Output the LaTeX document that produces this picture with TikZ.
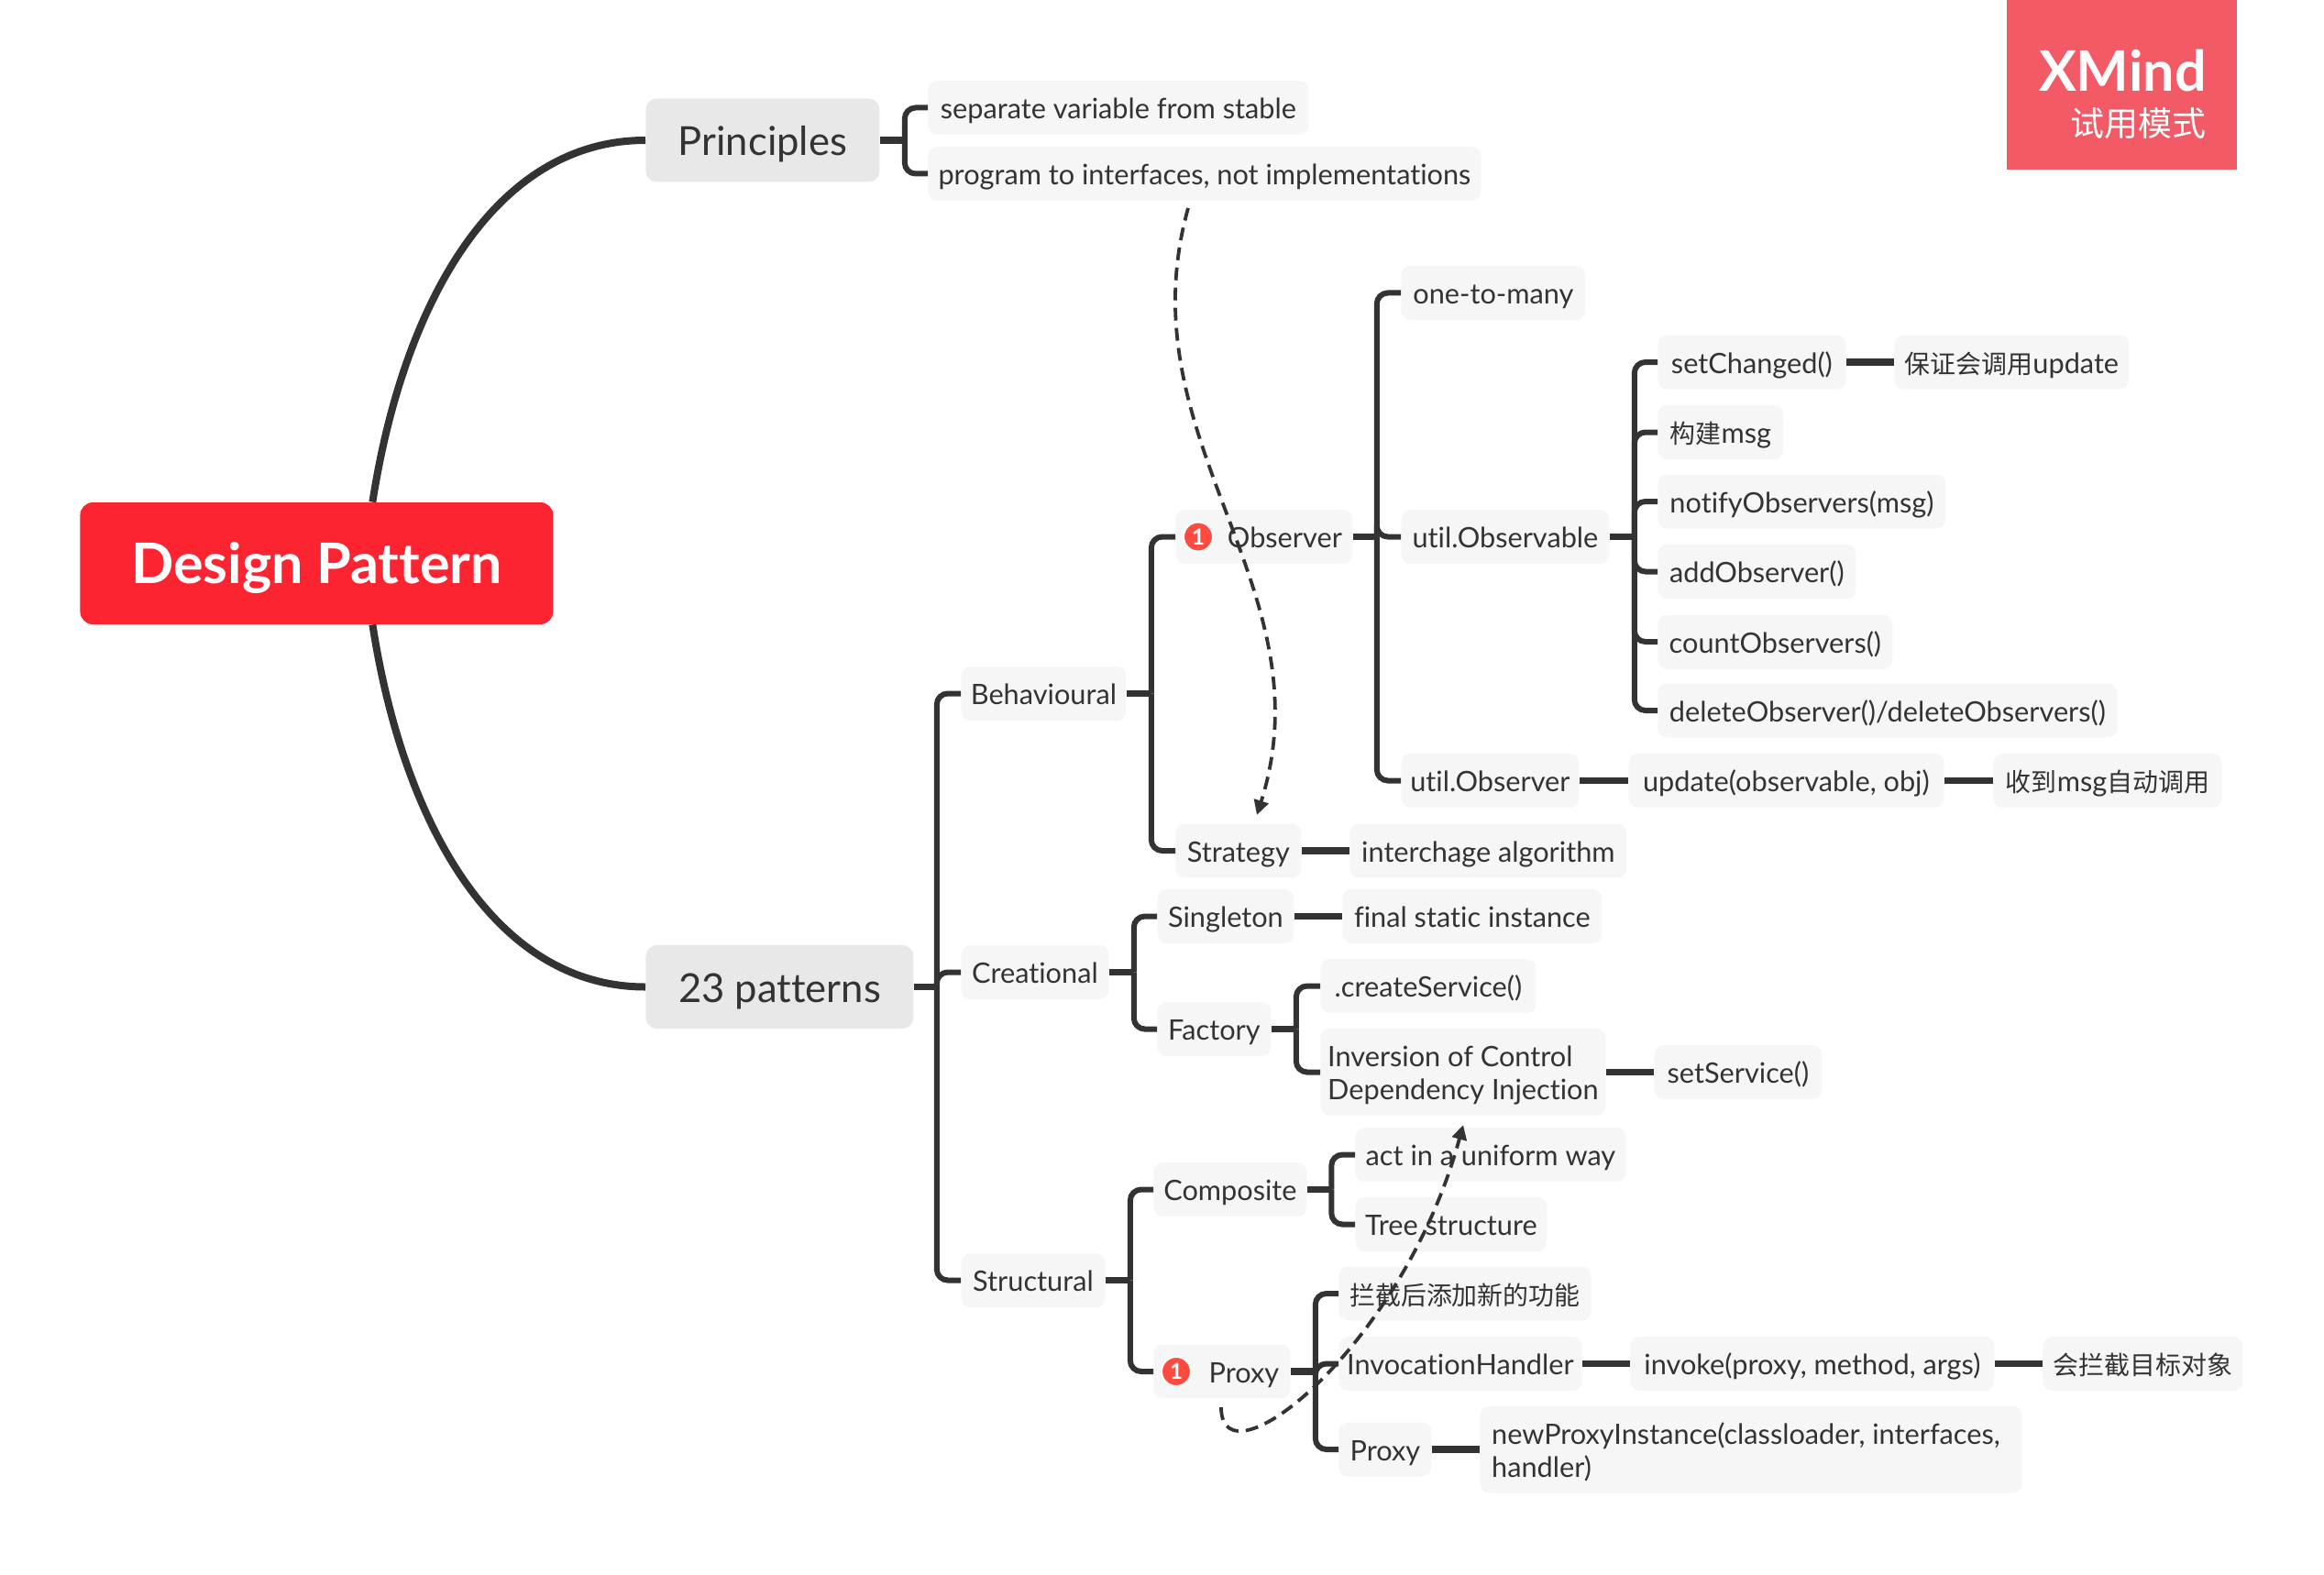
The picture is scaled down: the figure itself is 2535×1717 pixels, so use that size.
\documentclass[tikz,border=0pt]{standalone}
\usepackage{fontspec}
\usepackage{tikz}
\usetikzlibrary{arrows.meta}
\setmainfont[Ligatures=NoCommon]{Lato}
\newfontfamily\cjk[Scale=.91]{Noto Sans CJK SC}
\definecolor{inkgray}{HTML}{333333}
\definecolor{leafgray}{HTML}{F6F6F6}
\definecolor{maingray}{HTML}{E8E8E8}
\definecolor{rootred}{HTML}{FB2430}
\definecolor{markred}{HTML}{FF4A3F}
\definecolor{trialred}{HTML}{F25A65}
\tikzset{
  boxw/.style={minimum width=#1*.5pt},
  boxbase/.style={anchor=west, inner sep=0pt, text=inkgray},
  leaf/.style={boxbase, fill=leafgray, rounded corners=5pt, minimum height=29.5pt, text height=14pt, text depth=2pt, font=\fontsize{15.35}{18}\selectfont, align=left},
  tall/.style={boxbase, fill=leafgray, rounded corners=5pt, minimum height=47.5pt, font=\fontsize{15.35}{18}\selectfont, align=left},
  topic/.style={boxbase, fill=maingray, rounded corners=6pt, minimum height=45.5pt, text height=21pt, text depth=4pt, font=\fontsize{21.8}{24}\selectfont},
  badge/.style={circle, fill=markred, draw=white, line width=1pt, minimum size=16pt, inner sep=0pt, text=white, font=\bfseries\fontsize{12}{12}\selectfont},
  branch/.style={draw=inkgray, line width=3pt, rounded corners=6pt},
  stub/.style={draw=inkgray, line width=3.8pt},
  mainline/.style={draw=inkgray, line width=4pt},
  rel/.style={draw=inkgray, line width=1.9pt, dash pattern=on 7pt off 4pt, -{Triangle[length=8pt,width=8pt]}}
}
\begin{document}
\begin{tikzpicture}[x=.5pt, y=-.5pt]
        \useasboundingbox (0,0) rectangle (2535,1717);
        \node[anchor=north west, fill=trialred, inner sep=0pt, minimum width=125.5pt, minimum height=92.5pt] (trial) at (2189,0) {};
        \node[anchor=east, text=white, inner sep=0pt, font=\bfseries\fontsize{30.5}{30}\selectfont] (trialname) at (2407,77) {XMind};
        \node[anchor=east, text=white, inner sep=0pt, font=\cjk\fontsize{20.3}{22}\selectfont] (trialnote) at (2407,135) {试用模式};

        \node[boxbase, fill=rootred, rounded corners=7pt, boxw=516, minimum height=66.5pt, text height=28pt, text depth=6pt, text=white, font=\bfseries\fontsize{30.5}{32}\selectfont] (root) at (87,614.5) {Design Pattern};
        \node[topic, boxw=255] (principles) at (704,153) {Principles};
        \node[topic, boxw=292] (patterns) at (704,1076.5) {23 patterns};

        \node[leaf, boxw=415] (separate) at (1012,117.5) {separate variable from stable};
        \node[leaf, boxw=603] (program) at (1012,189.5) {program to interfaces, not implementations};

        \node[leaf, boxw=180] (behavioural) at (1048,756.5) {Behavioural};
        \node[leaf, boxw=161] (creational) at (1048,1060.5) {Creational};
        \node[leaf, boxw=157] (structural) at (1048,1396.5) {Structural};

        \node[leaf, boxw=193] (observer) at (1282,585.5) {\hspace*{22.5pt}Observer};
        \node[badge] (observermark) at (1307,585.5) {1};
        \node[leaf, boxw=137] (strategy) at (1282,928) {Strategy};
        \node[leaf, boxw=302] (interchange) at (1472,928) {interchage algorithm};

        \node[leaf, boxw=201] (onetomany) at (1528,319.5) {one-to-many};
        \node[leaf, boxw=227] (observable) at (1528,585.5) {util.Observable};
        \node[leaf, boxw=194] (utilobserver) at (1528,851.5) {util.Observer};
        \node[leaf, boxw=344] (update) at (1776,851.5) {update(observable, obj)};
        \node[leaf, boxw=249] (received) at (2174,851.5) {{\cjk 收到}msg{\cjk 自动调用}};

        \node[leaf, boxw=205] (setchanged) at (1808,395) {setChanged()};
        \node[leaf, boxw=256] (ensure) at (2066,395) {{\cjk 保证会调用}update};
        \node[leaf, boxw=137] (buildmsg) at (1808,471.5) {{\cjk 构建}msg};
        \node[leaf, boxw=314] (notify) at (1808,547) {notifyObservers(msg)};
        \node[leaf, boxw=216] (addobs) at (1808,623.5) {addObserver()};
        \node[leaf, boxw=256] (countobs) at (1808,700) {countObservers()};
        \node[leaf, boxw=501] (deleteobs) at (1808,775) {deleteObserver()/deleteObservers()};

        \node[leaf, boxw=149] (singleton) at (1262,999.5) {Singleton};
        \node[leaf, boxw=283] (finalstatic) at (1464,999.5) {final static instance};
        \node[leaf, boxw=124] (factory) at (1262,1122.5) {Factory};
        \node[leaf, boxw=235] (createservice) at (1440,1075.5) {.createService()};
        \node[tall, boxw=311] (inversion) at (1440,1169.5) {\rule{0pt}{14.5pt}Inversion of Control\\Dependency Injection};
        \node[leaf, boxw=183] (setservice) at (1804,1169.5) {setService()};

        \node[leaf, boxw=167] (composite) at (1258,1297.5) {Composite};
        \node[leaf, boxw=295] (uniform) at (1478,1259.5) {act in a uniform way};
        \node[leaf, boxw=209] (treestruct) at (1478,1335.5) {Tree structure};
        \node[leaf, boxw=149] (proxy) at (1258,1496) {\hspace*{24pt}Proxy};
        \node[badge] (proxymark) at (1283,1496) {1};
        \node[leaf, boxw=275] (intercept) at (1460,1411) {{\cjk 拦截后添加新的功能}};
        \node[leaf, boxw=265] (handler) at (1460,1487.5) {InvocationHandler};
        \node[leaf, boxw=397] (invoke) at (1778,1487.5) {invoke(proxy, method, args)};
        \node[leaf, boxw=218] (target) at (2228,1487.5) {{\cjk 会拦截目标对象}};
        \node[leaf, boxw=101] (proxyclass) at (1460,1581) {Proxy};
        \node[tall, boxw=591] (newproxy) at (1614,1581) {\rule{0pt}{14.5pt}newProxyInstance(classloader, interfaces,\hspace*{5.5pt}\\handler)};

        \draw[mainline] ([xshift=30.5pt]root.north) .. controls (440,330) and (540,153) .. (principles.west);
        \draw[mainline] ([xshift=30.5pt]root.south) .. controls (440,899) and (540,1076.5) .. (patterns.west);

        \foreach \kid in {separate,program} \draw[branch] ([xshift=13.5pt]principles.east) |- (\kid.west);
        \foreach \kid in {behavioural,creational,structural} \draw[branch] ([xshift=12.5pt]patterns.east) |- (\kid.west);
        \foreach \kid in {observer,strategy} \draw[branch] ([xshift=13.5pt]behavioural.east) |- (\kid.west);
        \foreach \kid in {onetomany,observable,utilobserver} \draw[branch] ([xshift=13pt]observer.east) |- (\kid.west);
        \foreach \kid in {setchanged,buildmsg,notify,addobs,countobs,deleteobs} \draw[branch] ([xshift=13.5pt]observable.east) |- (\kid.west);
        \foreach \kid in {singleton,factory} \draw[branch] ([xshift=13.5pt]creational.east) |- (\kid.west);
        \foreach \kid in {createservice,inversion} \draw[branch] ([xshift=13.5pt]factory.east) |- (\kid.west);
        \foreach \kid in {composite,proxy} \draw[branch] ([xshift=13.5pt]structural.east) |- (\kid.west);
        \foreach \kid in {uniform,treestruct} \draw[branch] ([xshift=13.25pt]composite.east) |- (\kid.west);
        \foreach \kid in {intercept,handler,proxyclass} \draw[branch] ([xshift=13.5pt]proxy.east) |- (\kid.west);

        \foreach \from in {principles,patterns,behavioural,observer,observable,creational,factory,structural,composite,proxy} \draw[stub] (\from.east) -- ++(27,0);

        \draw[stub] (strategy) -- (interchange);
        \draw[stub] (utilobserver) -- (update);
        \draw[stub] (update) -- (received);
        \draw[stub] (setchanged) -- (ensure);
        \draw[stub] (singleton) -- (finalstatic);
        \draw[stub] (inversion) -- (setservice);
        \draw[stub] (handler) -- (invoke);
        \draw[stub] (invoke) -- (target);
        \draw[stub] (proxyclass) -- (newproxy);

        \coordinate (relonestart) at (1296,227);
        \coordinate (reloneend) at (1371,889);
        \coordinate (reltwostart) at (1332,1535);
        \coordinate (reltwoend) at (1596,1227);
        \draw[rel] (relonestart) .. controls (1225,480) and (1450,640) .. (reloneend);
        \draw[rel] (reltwostart) .. controls (1332,1625) and (1530,1470) .. (reltwoend);
      \end{tikzpicture}
\end{document}
